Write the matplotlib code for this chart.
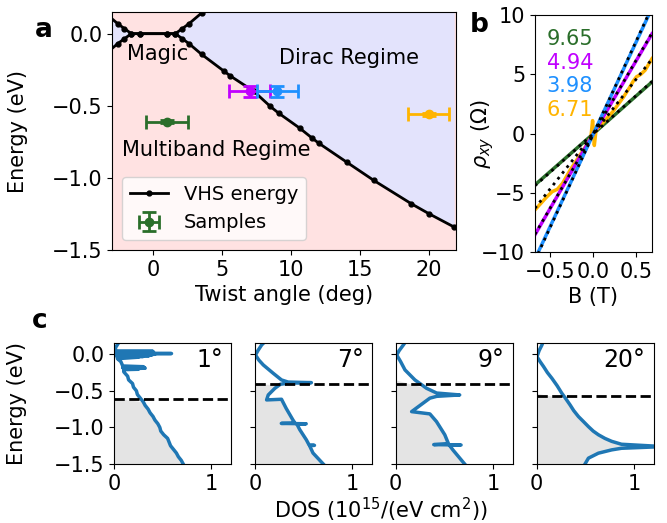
import numpy as np
import matplotlib.pyplot as plt

plt.rcParams["font.size"] = 15

# --- panel a: VHS energy vs twist angle (lower branch, theta >= 0) ---
vhs_theta = [1.0, 1.6, 2.1, 2.6, 3.5, 5.16, 5.59, 7.3, 8.5, 9.1, 10.63, 11.53,
             12.01, 14.03, 16.02, 18.75, 20.03, 21.85]
vhs_energy = [0.0, 0.0, -0.035, -0.07, -0.143, -0.262, -0.293, -0.40, -0.505,
              -0.551, -0.655, -0.724, -0.759, -0.89, -1.018, -1.18, -1.249, -1.341]

sample_angle = [1.0, 7.0, 9.0, 20.0]
sample_energy = [-0.61, -0.40, -0.40, -0.56]
sample_angle_err = [1.5, 1.5, 1.5, 1.5]
sample_energy_err = [0.01, 0.04, 0.04, 0.01]
sample_colors = ["#2a6e2a", "#c000ff", "#1e90ff", "#ffb400"]

# --- panel b: Hall resistivity ---
hall_labels = ["9.65", "4.94", "3.98", "6.71"]
B_lin = [-0.68, 0.0, 0.68]
rho_green = [-4.33, 0.0, 4.36]
rho_magenta = [-8.54, 0.0, 8.43]
rho_blue = [-10.6, 0.0, 10.6]
B_orange = [-0.68, -0.6, -0.54, -0.48, -0.42, -0.36, -0.27, -0.17, -0.08, -0.03,
            -0.01, 0.01, 0.03, 0.12, 0.23, 0.3, 0.35, 0.42, 0.46, 0.5, 0.55, 0.6, 0.68]
rho_orange = [-6.44, -5.8, -5.32, -4.9, -4.7, -4.2, -3.07, -1.95, -0.97, -0.3,
              1.1, -1.0, 0.3, 1.0, 1.9, 2.6, 3.1, 3.9, 4.4, 4.8, 5.0, 5.35, 6.33]
fit_green = [-4.4, 0.0, 4.4]
fit_magenta = [-8.5, 0.0, 8.5]
fit_blue = [-10.7, 0.0, 10.7]
fit_orange = [-6.3, 0.0, 6.3]

# --- panel c: density of states ---
dos_angles = ["1°", "7°", "9°", "20°"]
fermi_energy = [-0.61, -0.40, -0.40, -0.565]

E_1 = [0.15, 0.10, 0.06, 0.045, 0.04, 0.035, 0.03, 0.025, 0.02, 0.015, 0.01, 0.005,
       0.0, -0.005, -0.01, -0.015, -0.02, -0.025, -0.03, -0.035, -0.04, -0.06,
       -0.10, -0.13, -0.16, -0.17, -0.175, -0.18, -0.185, -0.19, -0.20, -0.205,
       -0.21, -0.24, -0.30, -0.35, -0.40, -0.45, -0.50, -0.55, -0.60, -0.65,
       -0.70, -0.75, -0.80, -0.85, -0.90, -0.95, -1.00, -1.05, -1.10, -1.15,
       -1.20, -1.25, -1.30, -1.35, -1.40, -1.45, -1.50]
D_1 = [0.044, 0.02, 0.01, 0.03, 0.40, 0.03, 0.38, 0.03, 0.41, 0.03, 0.59, 0.03,
       0.42, 0.03, 0.39, 0.03, 0.36, 0.04, 0.30, 0.03, 0.25, 0.035,
       0.07, 0.08, 0.09, 0.30, 0.09, 0.31, 0.09, 0.32, 0.10, 0.25,
       0.10, 0.10, 0.14, 0.15, 0.19, 0.20, 0.23, 0.24, 0.27, 0.30,
       0.32, 0.35, 0.37, 0.40, 0.42, 0.45, 0.47, 0.48, 0.51, 0.55,
       0.565, 0.58, 0.61, 0.64, 0.66, 0.69, 0.71]

E_7 = [0.15, 0.127, 0.05, -0.01, -0.08, -0.146, -0.26, -0.351, -0.38, -0.388,
       -0.395, -0.41, -0.465, -0.556, -0.624, -0.615, -0.74, -0.90, -0.94,
       -0.945, -0.95, -0.955, -1.03, -1.17, -1.24, -1.245, -1.25, -1.35, -1.50]
D_7 = [0.085, 0.068, 0.03, 0.005, 0.04, 0.085, 0.187, 0.272, 0.34, 0.578,
       0.34, 0.26, 0.204, 0.136, 0.119, 0.272, 0.32, 0.39, 0.41,
       0.27, 0.525, 0.43, 0.459, 0.527, 0.555, 0.61, 0.56, 0.595, 0.70]

E_9 = [0.15, 0.127, 0.05, -0.01, -0.10, -0.214, -0.351, -0.465, -0.53, -0.556,
       -0.575, -0.60, -0.784, -0.815, -0.92, -1.10, -1.22, -1.235, -1.24,
       -1.245, -1.26, -1.31, -1.50]
D_9 = [0.09, 0.078, 0.035, 0.01, 0.05, 0.095, 0.197, 0.316, 0.42, 0.656,
       0.42, 0.35, 0.163, 0.35, 0.418, 0.503, 0.54, 0.39, 0.67,
       0.55, 0.56, 0.588, 0.707]

E_20 = [0.15, 0.127, 0.05, -0.033, -0.10, -0.169, -0.25, -0.328, -0.43, -0.533,
        -0.61, -0.693, -0.77, -0.852, -0.92, -0.989, -1.05, -1.10, -1.15,
        -1.19, -1.23, -1.262, -1.285, -1.307, -1.352, -1.42, -1.50]
D_20 = [0.06, 0.054, 0.025, 0.003, 0.035, 0.071, 0.11, 0.156, 0.21, 0.258,
        0.30, 0.343, 0.38, 0.429, 0.48, 0.531, 0.58, 0.633, 0.70,
        0.769, 0.87, 1.30, 0.87, 0.769, 0.633, 0.531, 0.496]

# ---------------------------------------------------------------------------
fig = plt.figure(figsize=(6.67, 5.23), dpi=100)

# panel a
ax_a = fig.add_axes([0.168, 0.522, 0.516, 0.455])
th = np.array(vhs_theta)
en = np.array(vhs_energy)
x_branch = np.concatenate([-th[::-1], th])
e_branch = np.concatenate([en[::-1], en])
ax_a.set_facecolor("#ffe2e2")
ax_a.fill_between(x_branch, e_branch, -e_branch, color="#e3e3fc", lw=0)
ax_a.plot(x_branch, e_branch, "k.-", lw=2, ms=7, label="VHS energy")
ax_a.plot(x_branch, -e_branch, "k.-", lw=2, ms=7)
for i in range(len(sample_angle)):
    ax_a.errorbar(sample_angle[i], sample_energy[i], xerr=sample_angle_err[i],
                  yerr=sample_energy_err[i], fmt="o", ms=6, color=sample_colors[i],
                  elinewidth=2, capsize=5, capthick=2,
                  label="Samples" if i == 0 else None)
ax_a.text(0.3, -0.14, "Magic", ha="center", va="center")
ax_a.text(14.2, -0.17, "Dirac Regime", ha="center", va="center")
ax_a.text(4.6, -0.81, "Multiband Regime", ha="center", va="center")
ax_a.set_xlim(-3, 22)
ax_a.set_ylim(-1.5, 0.15)
ax_a.set_xticks([0, 5, 10, 15, 20])
ax_a.set_yticks([0.0, -0.5, -1.0, -1.5])
ax_a.set_xlabel("Twist angle (deg)")
ax_a.set_ylabel("Energy (eV)")
ax_a.yaxis.set_label_coords(-0.245, 0.5)
ax_a.legend(loc="lower left", fontsize=14, borderaxespad=0.5)
fig.text(0.052, 0.942, "a", fontsize=19, fontweight="bold", ha="left", va="center")

# panel b
ax_b = fig.add_axes([0.802, 0.518, 0.1755, 0.453])
ax_b.plot(B_lin, rho_green, color=sample_colors[0], lw=2.5)
ax_b.plot(B_orange, rho_orange, color=sample_colors[3], lw=2.5)
ax_b.plot(B_lin, rho_magenta, color=sample_colors[1], lw=2.5)
ax_b.plot(B_lin, rho_blue, color=sample_colors[2], lw=2.5)
for fit in [fit_green, fit_orange, fit_magenta, fit_blue]:
    ax_b.plot(B_lin, fit, "k:", lw=2)
for i, lab in enumerate(hall_labels):
    ax_b.text(0.1, 0.9 - i * 0.1, lab, color=sample_colors[i],
              transform=ax_b.transAxes, ha="left", va="center")
ax_b.set_xlim(-0.68, 0.68)
ax_b.set_ylim(-10, 10)
ax_b.set_xticks([-0.5, 0.0, 0.5])
ax_b.set_xticklabels(["\u22120.5", "0.0", "0.5"])
ax_b.set_yticks([-10, -5, 0, 5, 10])
ax_b.set_xlabel("B (T)")
ax_b.set_ylabel(r"$\rho_{xy}$ ($\Omega$)")
ax_b.yaxis.set_label_coords(-0.33, 0.5)
fig.text(0.705, 0.952, "b", fontsize=19, fontweight="bold", ha="left", va="center")

# panel c
dos_E = [E_1, E_7, E_9, E_20]
dos_D = [D_1, D_7, D_9, D_20]
lefts = [0.1709, 0.3823, 0.5933, 0.8046]
for i in range(4):
    ax = fig.add_axes([lefts[i], 0.1128, 0.1754, 0.2308])
    E = np.array(dos_E[i])
    D = np.array(dos_D[i])
    ax.fill_betweenx(E, 0, D, where=E <= fermi_energy[i], color="#e4e4e4",
                     lw=0, interpolate=True)
    ax.plot(D, E, color="#1f77b4", lw=2.5)
    ax.axhline(fermi_energy[i], color="k", ls="--", lw=2)
    ax.text(0.93, 0.86, dos_angles[i], transform=ax.transAxes, ha="right",
            va="center", fontsize=17)
    ax.set_xlim(0, 1.2)
    ax.set_ylim(-1.5, 0.15)
    ax.set_xticks([0, 1])
    ax.set_yticks([0.0, -0.5, -1.0, -1.5])
    if i == 0:
        ax.set_ylabel("Energy (eV)")
        ax.yaxis.set_label_coords(-0.74, 0.5)
    else:
        ax.set_yticklabels([])
fig.text(0.571, 0.026, r"DOS (10$^{15}$/(eV cm$^{2}$))", ha="center", va="center")
fig.text(0.048, 0.387, "c", fontsize=19, fontweight="bold", ha="left", va="center")

fig.savefig("out.png", dpi=100)
